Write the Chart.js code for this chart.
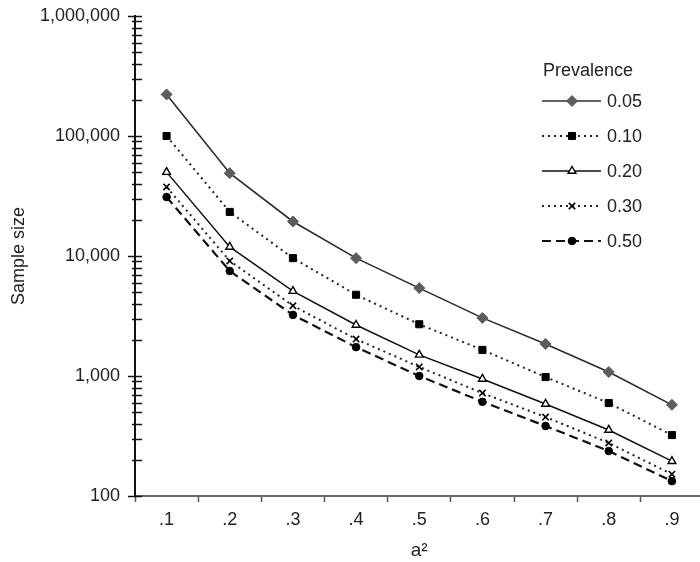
<!DOCTYPE html>
<html>
<head>
<meta charset="utf-8">
<script src="https://cdn.jsdelivr.net/npm/chart.js@4"></script>
<style>
  html, body { margin: 0; padding: 0; background: #fff; overflow: hidden; }
  #wrap { width: 710px; height: 562px; }
</style>
</head>
<body>
<div id="wrap"><canvas id="sampleChart"></canvas></div>
<script>
// values
const categories = ['.1', '.2', '.3', '.4', '.5', '.6', '.7', '.8', '.9'];
const prev05 = [222000, 49000, 19400, 9600, 5400, 3050, 1850, 1080, 575];
const prev10 = [100000, 23300, 9600, 4750, 2700, 1650, 980, 595, 322];
const prev20 = [50000, 11900, 5100, 2660, 1500, 945, 585, 355, 195];
const prev30 = [37600, 9100, 3850, 2030, 1190, 720, 455, 277, 152];
const prev50 = [31000, 7500, 3230, 1740, 1000, 610, 383, 237, 133];
const seriesLabels = ['0.05', '0.10', '0.20', '0.30', '0.50'];
const yTickValues = [];
for (let d = 100; d < 1000000; d *= 10) {
  for (let k = 1; k < 10; k++) yTickValues.push(d * k);
}
yTickValues.push(1000000);

const fontFamily = '"Liberation Sans", Arial, sans-serif';

// crossing tick marks on the y axis
const yTickPlugin = {
  id: 'yTicks',
  beforeDatasetsDraw(chart) {
    const y = chart.scales.y;
    const ax = chart.chartArea.left;
    const ctx = chart.ctx;
    ctx.save();
    ctx.strokeStyle = '#111';
    ctx.lineWidth = 1.5;
    y.ticks.forEach(t => {
      const p = Math.round(y.getPixelForValue(t.value)) + 0.5;
      const major = Math.abs(Math.log10(t.value) - Math.round(Math.log10(t.value))) < 1e-9;
      ctx.beginPath();
      ctx.moveTo(ax - (major ? 7 : 3), p);
      ctx.lineTo(ax + 7, p);
      ctx.stroke();
    });
    ctx.restore();
  }
};

// legend drawn inside the plot
const legendPlugin = {
  id: 'insideLegend',
  afterDraw(chart) {
    const ctx = chart.ctx;
    ctx.save();
    ctx.fillStyle = '#222';
    ctx.font = '18px ' + fontFamily;
    ctx.textBaseline = 'middle';
    ctx.textAlign = 'left';
    ctx.fillText('Prevalence', 543, 71);
    chart.data.datasets.forEach((ds, i) => {
      const yy = 101 + i * 35;
      ctx.save();
      ctx.strokeStyle = ds.borderColor;
      ctx.lineWidth = ds.borderWidth;
      ctx.setLineDash(ds.borderDash || []);
      ctx.beginPath();
      ctx.moveTo(542, yy);
      ctx.lineTo(601, yy);
      ctx.stroke();
      ctx.setLineDash([]);
      ctx.fillStyle = ds.pointBackgroundColor;
      ctx.strokeStyle = ds.pointBorderColor;
      ctx.lineWidth = ds.pointBorderWidth;
      Chart.helpers.drawPoint(ctx, {
        pointStyle: ds.pointStyle,
        radius: ds.pointRadius,
        rotation: 0,
        borderWidth: ds.pointBorderWidth
      }, 572, yy);
      ctx.restore();
      ctx.fillStyle = '#222';
      ctx.fillText(ds.label, 607, yy + 1);
    });
    ctx.restore();
  }
};

const chartData = {
  labels: categories,
  datasets: [
    {
      label: seriesLabels[0],
      data: prev05,
      borderColor: '#2b2b2b',
      borderWidth: 1.6,
      pointStyle: 'rectRot',
      pointRadius: 5.5,
      pointBackgroundColor: '#5c5c5c',
      pointBorderColor: '#5c5c5c',
      pointBorderWidth: 1
    },
    {
      label: seriesLabels[1],
      data: prev10,
      borderColor: '#222',
      borderWidth: 2,
      borderDash: [2, 4],
      pointStyle: 'rect',
      pointRadius: 5,
      pointBackgroundColor: '#000',
      pointBorderColor: '#000',
      pointBorderWidth: 1
    },
    {
      label: seriesLabels[2],
      data: prev20,
      borderColor: '#111',
      borderWidth: 1.5,
      pointStyle: 'triangle',
      pointRadius: 4.5,
      pointBackgroundColor: '#fff',
      pointBorderColor: '#000',
      pointBorderWidth: 1.4
    },
    {
      label: seriesLabels[3],
      data: prev30,
      borderColor: '#222',
      borderWidth: 2,
      borderDash: [2, 4],
      pointStyle: 'crossRot',
      pointRadius: 4.5,
      pointBackgroundColor: '#000',
      pointBorderColor: '#000',
      pointBorderWidth: 1.6
    },
    {
      label: seriesLabels[4],
      data: prev50,
      borderColor: '#111',
      borderWidth: 2.2,
      borderDash: [9, 5],
      pointStyle: 'circle',
      pointRadius: 3.8,
      pointBackgroundColor: '#000',
      pointBorderColor: '#000',
      pointBorderWidth: 1
    }
  ]
};

const config = {
  type: 'line',
  data: chartData,
  plugins: [yTickPlugin, legendPlugin],
  options: {
    responsive: true,
    maintainAspectRatio: false,
    animation: false,
    layout: { padding: { top: 16, right: 2, left: 0, bottom: 0 } },
    elements: { line: { tension: 0, fill: false } },
    plugins: {
      legend: { display: false },
      tooltip: { enabled: false }
    },
    scales: {
      x: {
        type: 'category',
        offset: true,
        grid: {
          offset: true,
          drawOnChartArea: false,
          drawTicks: true,
          tickLength: 6,
          tickColor: '#555',
          tickWidth: 1.5
        },
        border: { color: '#666', width: 2 },
        ticks: {
          color: '#222',
          font: { family: fontFamily, size: 18 },
          padding: 7,
          maxRotation: 0
        },
        title: {
          display: true,
          text: 'a²',
          color: '#222',
          font: { family: fontFamily, size: 19 },
          padding: { top: 0, bottom: 0 }
        },
        afterFit(scale) {
          scale.height = 66;
          scale.paddingLeft = 0;
          scale.paddingRight = 0;
        }
      },
      y: {
        type: 'logarithmic',
        min: 100,
        max: 1000000,
        grid: { drawOnChartArea: false, drawTicks: false },
        border: { color: '#111', width: 2 },
        afterBuildTicks(scale) {
          scale.ticks = yTickValues.map(v => ({ value: v }));
        },
        ticks: {
          autoSkip: false,
          color: '#222',
          font: { family: fontFamily, size: 18 },
          padding: 15,
          callback(value) {
            const e = Math.log10(value);
            return Math.abs(e - Math.round(e)) < 1e-9 ? Number(value).toLocaleString('en-US') : '';
          }
        },
        title: {
          display: true,
          text: 'Sample size',
          color: '#222',
          font: { family: fontFamily, size: 18 },
          padding: { top: 8, bottom: 0 }
        },
        afterFit(scale) {
          scale.width = 135;
          scale.paddingTop = 0;
          scale.paddingBottom = 0;
        }
      }
    }
  }
};

try {
  const ctx = document.getElementById('sampleChart').getContext('2d');
  new Chart(ctx, config);
} catch (error) {
  console.error('Error rendering the chart:', error);
}
</script>
</body>
</html>
